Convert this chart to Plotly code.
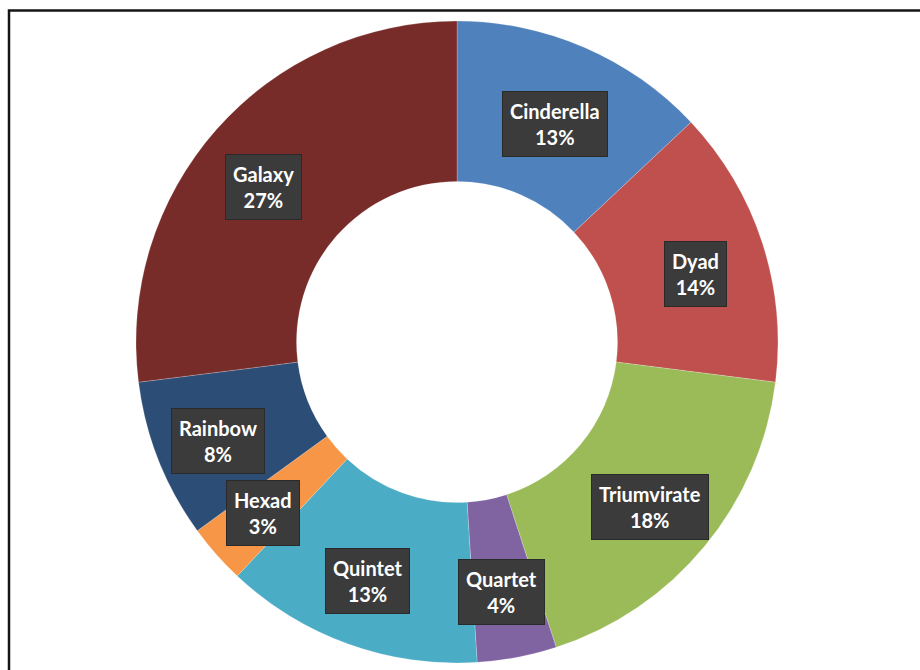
import math
import plotly.graph_objects as go

# Share of each group, clockwise from 12 o'clock
groups = ["Cinderella", "Dyad", "Triumvirate", "Quartet", "Quintet", "Hexad", "Rainbow", "Galaxy"]
shares = [13, 14, 18, 4, 13, 3, 8, 27]
colors = ["#4F81BD", "#C0504D", "#9BBB59", "#8064A2", "#4BACC6", "#F79646", "#2C4D75", "#772C2A"]

W, H = 920, 670
CX, CY, R = 457, 342, 321          # donut centre and outer radius in pixels
HOLE = 0.5
LABEL_RX, LABEL_RY = 254, 246       # label ellipse radii in pixels
LABEL_DX, LABEL_DY = -3, 8          # label ellipse offset from the donut centre

fig = go.Figure()

fig.add_trace(go.Pie(
    labels=groups,
    values=shares,
    sort=False,
    direction="clockwise",
    rotation=0,
    hole=HOLE,
    textinfo="none",
    showlegend=False,
    marker=dict(colors=colors, line=dict(color="rgba(255,255,255,0.35)", width=0.6)),
    domain=dict(x=[(CX - R) / W, (CX + R) / W], y=[1 - (CY + R) / H, 1 - (CY - R) / H]),
))

# Data labels: a dark box centred on the middle of each slice
total = sum(shares)
cum = 0.0
for name, v in zip(groups, shares):
    mid = (cum + v / 2) / total * 2 * math.pi
    cum += v
    px = CX + LABEL_DX + LABEL_RX * math.sin(mid)
    py = CY + LABEL_DY - LABEL_RY * math.cos(mid)
    pct = round(v / total * 100)
    fig.add_annotation(
        x=px / W, y=1 - py / H, xref="paper", yref="paper",
        xanchor="center", yanchor="middle",
        showarrow=False,
        text=f"<b>{name}</b><br><b>{pct}%</b>",
        borderpad=7,
        bgcolor="#3B3B3B",
        bordercolor="#2A2A2A",
        borderwidth=1,
        font=dict(family="Lato, 'Open Sans', sans-serif", size=20, color="#FFFFFF"),
    )

# Chart frame
fig.add_shape(type="rect", xref="paper", yref="paper",
              x0=9 / W, x1=1.05, y0=-0.05, y1=1 - 10.5 / H,
              line=dict(color="#151515", width=2.5), fillcolor="rgba(0,0,0,0)", layer="below")

fig.update_layout(
    width=W, height=H,
    margin=dict(l=0, r=0, t=0, b=0),
    paper_bgcolor="#FFFFFF",
    plot_bgcolor="#FFFFFF",
)

fig.write_html("out.html")
